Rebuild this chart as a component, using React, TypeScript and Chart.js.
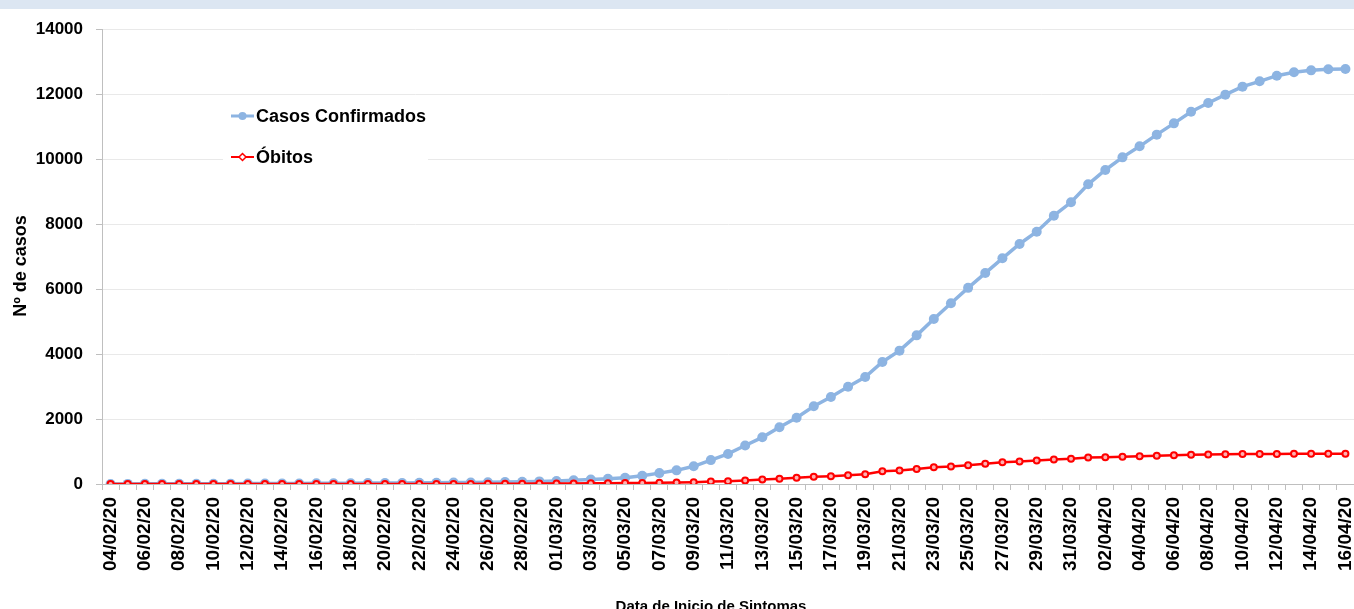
import { useEffect, useRef } from "react";
import { Chart, registerables } from "chart.js";

Chart.register(...registerables);

const dateLabels = [
  "04/02/20", "05/02/20", "06/02/20", "07/02/20", "08/02/20", "09/02/20", "10/02/20", "11/02/20",
  "12/02/20", "13/02/20", "14/02/20", "15/02/20", "16/02/20", "17/02/20", "18/02/20", "19/02/20",
  "20/02/20", "21/02/20", "22/02/20", "23/02/20", "24/02/20", "25/02/20", "26/02/20", "27/02/20",
  "28/02/20", "29/02/20", "01/03/20", "02/03/20", "03/03/20", "04/03/20", "05/03/20", "06/03/20",
  "07/03/20", "08/03/20", "09/03/20", "10/03/20", "11/03/20", "12/03/20", "13/03/20", "14/03/20",
  "15/03/20", "16/03/20", "17/03/20", "18/03/20", "19/03/20", "20/03/20", "21/03/20", "22/03/20",
  "23/03/20", "24/03/20", "25/03/20", "26/03/20", "27/03/20", "28/03/20", "29/03/20", "30/03/20",
  "31/03/20", "01/04/20", "02/04/20", "03/04/20", "04/04/20", "05/04/20", "06/04/20", "07/04/20",
  "08/04/20", "09/04/20", "10/04/20", "11/04/20", "12/04/20", "13/04/20", "14/04/20", "15/04/20",
  "16/04/20",
];

const casosConfirmados = [
  2, 3, 4, 5, 6, 8, 9, 11, 12, 14, 16, 18, 20, 22, 24, 27, 30, 33, 36, 40,
  44, 48, 55, 62, 70, 80, 95, 112, 135, 160, 195, 255, 335, 420, 545, 735, 925, 1185, 1436, 1744,
  2041, 2390, 2677, 2995, 3292, 3754, 4103, 4574, 5077, 5559, 6035, 6490, 6944, 7385, 7763, 8256,
  8667, 9221, 9662, 10051, 10390, 10749, 11097, 11456, 11723, 11980, 12226, 12390, 12564, 12667,
  12728, 12759, 12769,
];

const obitos = [
  0, 0, 0, 0, 0, 0, 0, 0, 0, 0, 0, 0, 0, 0, 0, 0, 0, 0, 0, 0,
  1, 2, 4, 6, 9, 12, 16, 19, 22, 25, 30, 34, 38, 45, 55, 75, 88, 108, 138, 160,
  190, 220, 242, 272, 303, 392, 418, 458, 515, 540, 580, 622, 671, 692, 723, 754,
  774, 815, 825, 836, 856, 867, 887, 898, 908, 915, 920, 924, 926, 927, 928, 929, 930,
];

const seriesNames = ["Casos Confirmados", "Óbitos"];
const yMin = 0;
const yMax = 14000;
const yStep = 2000;
const yTitle = "Nº de casos";
const xTitle = "Data de Inicio de Sintomas";

const FONT = "'Liberation Sans', Arial, sans-serif";

const overlayPlugin = {
  id: "overlay",
  beforeDatasetsDraw(chart: any) {
    const ctx = chart.ctx as CanvasRenderingContext2D;
    ctx.save();
    ctx.fillStyle = "#ffffff";
    ctx.fillRect(223, 99, 205, 74);
    const rows = [116, 157];
    chart.data.datasets.forEach((ds: any, i: number) => {
      const y = rows[i];
      ctx.strokeStyle = ds.borderColor;
      ctx.lineWidth = i === 0 ? 3 : 2;
      ctx.beginPath();
      ctx.moveTo(231, y);
      ctx.lineTo(254, y);
      ctx.stroke();
      if (i === 0) {
        ctx.fillStyle = ds.pointBackgroundColor;
        ctx.beginPath();
        ctx.arc(242.5, y, 4, 0, Math.PI * 2);
        ctx.fill();
      } else {
        ctx.fillStyle = "#ffffff";
        ctx.strokeStyle = ds.pointBorderColor;
        ctx.lineWidth = 1.5;
        ctx.beginPath();
        ctx.moveTo(242.5, y - 3.5);
        ctx.lineTo(246, y);
        ctx.lineTo(242.5, y + 3.5);
        ctx.lineTo(239, y);
        ctx.closePath();
        ctx.fill();
        ctx.stroke();
      }
      ctx.fillStyle = "#000000";
      ctx.font = `bold 18px ${FONT}`;
      ctx.textAlign = "left";
      ctx.textBaseline = "middle";
      ctx.fillText(ds.label, 256, y + 1);
    });
    ctx.restore();
  },
  afterDraw(chart: any) {
    const ctx = chart.ctx as CanvasRenderingContext2D;
    ctx.save();
    ctx.fillStyle = "#000000";
    ctx.font = `bold 18px ${FONT}`;
    ctx.textAlign = "center";
    ctx.textBaseline = "alphabetic";
    ctx.translate(26, 266);
    ctx.rotate(-Math.PI / 2);
    ctx.fillText(yTitle, 0, 0);
    ctx.restore();

    ctx.save();
    ctx.fillStyle = "#000000";
    ctx.font = `bold 15px ${FONT}`;
    ctx.textAlign = "center";
    ctx.textBaseline = "alphabetic";
    ctx.fillText(xTitle, 711, 611);
    ctx.restore();
  },
};

export default function App() {
  const canvasRef = useRef<HTMLCanvasElement | null>(null);

  useEffect(() => {
    document.body.style.margin = "0";
    const canvas = canvasRef.current;
    if (!canvas) return;
    const chart = new Chart(canvas, {
      type: "line",
      data: {
        labels: dateLabels,
        datasets: [
          {
            label: seriesNames[0],
            data: casosConfirmados,
            borderColor: "#8db4e2",
            backgroundColor: "#8db4e2",
            pointBackgroundColor: "#8db4e2",
            pointBorderColor: "#8db4e2",
            borderWidth: 3.5,
            pointRadius: 5,
            pointBorderWidth: 0,
            pointStyle: "circle",
            tension: 0,
            order: 1,
          },
          {
            label: seriesNames[1],
            data: obitos,
            borderColor: "#ff0000",
            backgroundColor: "#ff0000",
            pointBackgroundColor: "#ffb0b0",
            pointBorderColor: "#ff0000",
            borderWidth: 2.5,
            pointRadius: 3,
            pointBorderWidth: 2,
            pointStyle: "circle",
            tension: 0,
            order: 0,
          },
        ],
      },
      options: {
        animation: false,
        responsive: false,
        maintainAspectRatio: false,
        layout: { autoPadding: false, padding: { top: 29, left: 0, right: 0, bottom: 0 } },
        plugins: {
          legend: { display: false },
          tooltip: { enabled: false },
        },
        scales: {
          x: {
            type: "category",
            offset: true,
            grid: {
              offset: true,
              drawOnChartArea: false,
              drawTicks: true,
              tickLength: 6,
              tickColor: "#bfbfbf",
              color: "#bfbfbf",
            },
            border: { display: true, color: "#bfbfbf", width: 1 },
            ticks: {
              autoSkip: false,
              maxRotation: 90,
              minRotation: 90,
              padding: 7,
              color: "#000000",
              font: { family: FONT, size: 19, weight: "bold" },
              callback: (_v: any, index: number) => (index % 2 === 0 ? dateLabels[index] : ""),
            },
            afterFit: (scale: any) => {
              scale.height = 125;
              scale.paddingLeft = 0;
              scale.paddingRight = 0;
            },
          },
          y: {
            min: yMin,
            max: yMax,
            grid: {
              color: "#e9e9e9",
              tickColor: "#bfbfbf",
              tickLength: 6,
              drawTicks: true,
            },
            border: { display: true, color: "#bfbfbf", width: 1 },
            ticks: {
              stepSize: yStep,
              padding: 13,
              color: "#000000",
              font: { family: FONT, size: 17, weight: "bold" },
              callback: (v: any) => String(v),
            },
            afterFit: (scale: any) => {
              scale.width = 102;
              scale.paddingTop = 0;
              scale.paddingBottom = 0;
            },
          },
        },
      },
      plugins: [overlayPlugin],
    } as any);
    return () => {
      chart.destroy();
    };
  }, []);

  return (
    <div style={{ position: "relative", width: 1354, height: 609, overflow: "hidden", background: "#ffffff" }}>
      <canvas ref={canvasRef} width={1354} height={609} style={{ position: "absolute", left: 0, top: 0, width: 1354, height: 609 }} />
      <div style={{ position: "absolute", left: 0, top: 0, width: 1354, height: 9, background: "#dce6f2" }} />
    </div>
  );
}
